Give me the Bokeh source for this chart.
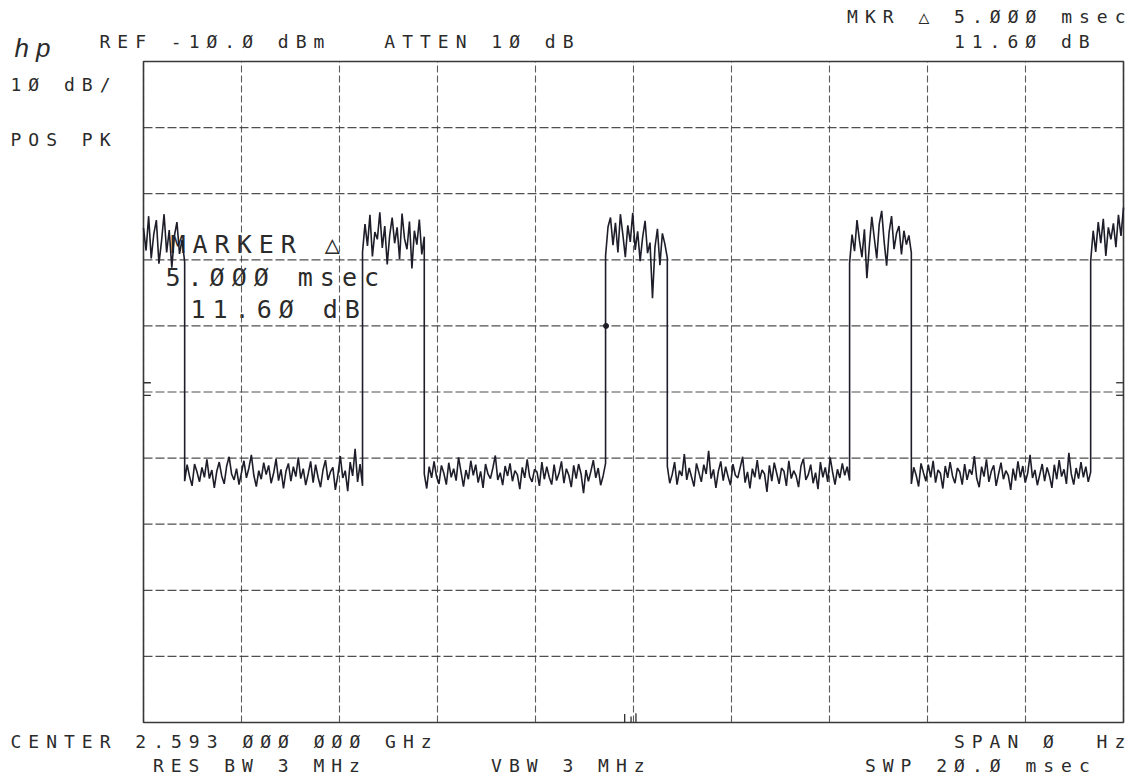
import numpy as np
from bokeh.plotting import figure
from bokeh.models import Label, Range1d
from bokeh.embed import file_html
from bokeh.resources import INLINE

# ---------------- data ----------------
sweep_ms = (0.0, 20.0)          # SWP 20.0 msec, zero span
level_db = (-110.0, -10.0)      # REF -10.0 dBm, 10 dB/div
x_ticks = [0, 2, 4, 6, 8, 10, 12, 14, 16, 18, 20]
y_ticks = [-110, -100, -90, -80, -70, -60, -50, -40, -30, -20, -10]

# pulse on/off transition times (ms)
edges_ms = [0.0, 0.84, 4.47, 5.73, 9.43, 10.69, 14.41, 15.67, 19.33, 20.0]

high1 = [-35.2, -38.6, -33.4, -39.8, -36.1, -34.0, -40.6, -37.2, -33.1, -38.9,
         -35.5, -41.2, -36.4, -34.3, -39.1, -37.0, -40.3]
low1 = [-73.5, -71.0, -72.8, -74.2, -70.9, -72.1, -73.6, -71.4, -72.9, -70.2,
        -73.1, -71.8, -74.5, -72.0, -70.6, -72.7, -73.9, -71.2, -69.8, -72.4,
        -73.3, -71.6, -74.0, -72.2, -70.4, -73.0, -71.5, -69.5, -72.6, -74.3,
        -71.9, -73.2, -70.7, -72.5, -71.1, -73.8, -72.3, -70.1, -73.4, -71.7,
        -74.6, -72.0, -70.8, -73.5, -71.3, -72.8, -69.9, -73.1, -71.6, -74.1,
        -72.4, -70.5, -73.7, -71.0, -72.9, -74.4, -71.8, -70.3, -73.3, -72.1,
        -71.4, -74.8, -72.6, -69.7, -73.0, -71.9, -75.0, -70.6, -72.7, -68.6,
        -73.6, -70.9, -74.2]
high2 = [-38.8, -34.6, -37.9, -33.2, -39.5, -35.8, -36.9, -32.8, -38.2, -34.9,
         -40.7, -36.3, -33.6, -37.5, -35.1, -39.9, -33.0, -36.8, -38.4, -34.2,
         -41.3, -35.6, -37.7, -33.9, -39.2, -36.5]
low2 = [-72.4, -74.6, -71.3, -73.0, -70.5, -72.8, -73.9, -71.1, -72.3, -74.0,
        -70.7, -72.9, -71.6, -73.4, -69.9, -72.1, -74.3, -71.8, -73.2, -70.4,
        -72.6, -71.0, -73.7, -72.0, -74.5, -70.9, -72.4, -73.1, -71.5, -69.6,
        -73.3, -72.2, -74.1, -71.2, -72.7, -70.8, -73.5, -71.9, -72.5, -74.7,
        -71.4, -73.0, -70.2, -72.8, -73.6, -71.7, -72.1, -74.2, -70.6, -73.2,
        -71.3, -72.9, -74.0, -71.0, -73.4, -72.3, -70.5, -73.8, -71.6, -72.6,
        -74.4, -71.1, -73.1, -70.9, -72.4, -75.3, -71.8, -73.5, -72.0, -70.3,
        -73.0, -71.5, -74.1, -72.7, -70.8]
high3 = [-39.4, -35.0, -33.6, -37.8, -34.4, -38.9, -33.1, -36.2, -39.6, -34.8,
         -37.3, -32.9, -38.5, -35.7, -40.2, -36.6, -34.1, -39.0, -37.4, -45.8,
         -38.1, -35.3, -40.8, -36.0, -37.6, -39.7]
low3 = [-71.2, -73.8, -72.5, -70.6, -74.0, -71.9, -72.7, -69.4, -73.3, -71.5,
        -72.9, -74.3, -70.8, -72.2, -73.6, -71.0, -72.4, -68.9, -73.1, -71.7,
        -74.5, -72.0, -70.5, -73.4, -71.3, -72.8, -74.1, -70.9, -72.6, -73.0,
        -71.4, -69.8, -73.7, -72.1, -74.6, -71.6, -72.9, -70.3, -73.2, -71.8,
        -72.4, -75.1, -71.1, -73.5, -70.7, -72.3, -73.9, -71.5, -72.0, -74.2,
        -70.4, -73.1, -71.9, -72.7, -74.4, -71.2, -70.1, -73.3, -72.5, -71.0,
        -73.8, -72.2, -74.7, -70.6, -72.9, -71.4, -73.6, -69.9, -72.1, -74.0,
        -71.7, -73.0, -70.8, -72.6, -71.3, -73.4]
high4 = [-40.5, -36.2, -38.7, -34.0, -37.1, -39.6, -35.4, -42.8, -37.9, -33.5,
         -36.7, -39.8, -34.6, -32.6, -37.3, -40.9, -35.8, -33.4, -38.4, -36.0,
         -34.9, -39.2, -35.6, -37.7, -36.3, -38.9]
low4 = [-73.9, -71.4, -72.6, -74.3, -70.8, -72.2, -73.5, -71.0, -72.9, -70.4,
        -73.7, -71.8, -72.3, -74.6, -71.2, -73.0, -70.6, -72.7, -73.8, -71.5,
        -72.1, -74.0, -70.9, -73.3, -71.7, -72.5, -69.7, -73.1, -74.4, -71.3,
        -72.8, -70.2, -73.6, -72.0, -71.1, -74.2, -72.4, -70.7, -73.2, -71.9,
        -72.6, -74.8, -71.6, -73.4, -70.5, -72.9, -71.2, -73.7, -72.3, -69.5,
        -73.0, -71.8, -74.1, -72.5, -70.9, -73.5, -71.4, -72.7, -74.5, -71.0,
        -73.2, -70.3, -72.8, -71.7, -73.9, -69.2, -72.4, -74.0, -71.5, -73.1,
        -70.6, -72.9, -71.3, -73.6, -72.1]
high5 = [-40.2, -35.6, -38.8, -34.3, -37.5, -33.8, -39.4, -35.1, -36.9, -34.5,
         -38.1, -33.2, -36.4, -32.1]
segments = [high1, low1, high2, low2, high3, low3, high4, low4, high5]

marker_ms = [9.44]
marker_db = [-50.0]
threshold_marks_db = [-58.6, -60.5]      # small "=" marks on both graticule edges
center_marks_ms = [9.82, 9.95, 10.05]    # small ticks on the bottom edge
center_marks_top_db = [-108.7, -109.1, -108.6]

top_texts = ["REF -1Ø.Ø dBm", "ATTEN 1Ø dB", "MKR △ 5.ØØØ msec", "11.6Ø dB"]
side_texts = ["1Ø dB/", "POS PK"]
bottom_texts = ["CENTER 2.593 ØØØ ØØØ GHz", "SPAN Ø\u00a0 Hz",
                "RES BW 3 MHz", "VBW 3 MHz", "SWP 2Ø.Ø msec"]
marker_texts = ["MARKER △", "5.ØØØ msec", "11.6Ø dB"]
logo_text = "hp"

# ---------------- build trace ----------------
t_all, db_all = [], []
for k, vals in enumerate(segments):
    t_all.extend(np.linspace(edges_ms[k], edges_ms[k + 1], len(vals)).tolist())
    db_all.extend(vals)

# ---------------- page geometry ----------------
W, H = 1133, 777
FL, FT, PXX, PXY = 143.0, 61.0, 49.0, 6.61   # graticule origin (page px) and px per unit
COL0, COLW = 10.0, 17.8                      # analyzer character grid (page px)


def to_data(px, py):
    return (px - FL) / PXX, level_db[1] - (py - FT) / PXY


def col(c):
    return COL0 + COLW * c


x0, y1 = to_data(0, 0)
x1, y0 = to_data(W, H)

p = figure(width=W, height=H, x_range=Range1d(x0, x1), y_range=Range1d(y0, y1),
           x_axis_location=None, y_axis_location=None,
           output_backend="svg", toolbar_location=None,
           min_border=0)
p.xgrid.visible = False
p.ygrid.visible = False
p.background_fill_color = "white"
p.border_fill_color = "white"
p.outline_line_color = None
p.styles = {"letter-spacing": "7px"}

INK = "#2b2b2b"

# graticule
p.segment(x0=x_ticks, x1=x_ticks, y0=[level_db[0]] * len(x_ticks), y1=[level_db[1]] * len(x_ticks),
          line_color="#4a4a4a", line_width=1.1, line_dash="7 3", line_alpha=0.9)
p.segment(x0=[sweep_ms[0]] * len(y_ticks), x1=[sweep_ms[1]] * len(y_ticks), y0=y_ticks, y1=y_ticks,
          line_color="#3c3c3c", line_width=1.2, line_dash="9 3", line_alpha=0.9)
p.quad(left=[sweep_ms[0]], right=[sweep_ms[1]], bottom=[level_db[0]], top=[level_db[1]],
       fill_color=None, line_color="#383838", line_width=1.6)

# edge marks
mark_len = 0.15
p.segment(x0=[sweep_ms[0]] * 2, x1=[sweep_ms[0] + mark_len] * 2,
          y0=threshold_marks_db, y1=threshold_marks_db, line_color="#303030", line_width=1.3)
p.segment(x0=[sweep_ms[1] - mark_len] * 2, x1=[sweep_ms[1]] * 2,
          y0=threshold_marks_db, y1=threshold_marks_db, line_color="#303030", line_width=1.3)
p.segment(x0=center_marks_ms, x1=center_marks_ms, y0=[level_db[0]] * 3, y1=center_marks_top_db,
          line_color="#303030", line_width=1.3)


def add_text(txt, px, py, size=18, font="DejaVu Sans Mono", style="normal", level="annotation"):
    # py is the wanted baseline (page px); compensate the renderer's baseline offset
    x, y = to_data(px, py - 0.37 * size)
    p.add_layout(Label(x=x, y=y, text=txt, text_font=font, text_font_size=f"{size}px",
                       text_font_style=style, text_color=INK, text_align="left",
                       text_baseline="alphabetic", level=level))


# marker readout in the graticule (under the trace)
add_text(marker_texts[0], 170, 253, size=25, level="underlay")
add_text(marker_texts[1], 165, 286, size=25, level="underlay")
add_text(marker_texts[2], 190, 318, size=25, level="underlay")

p.line(t_all, db_all, line_color="#1e1e2a", line_width=1.6)
p.scatter(marker_ms, marker_db, size=5, color="#1e1e2a")

# header / footer annotations
add_text(logo_text, 14, 57, size=26, font="Liberation Sans", style="italic")
add_text(top_texts[0], col(5), 48)
add_text(top_texts[1], col(21), 48)
add_text(top_texts[2], col(47), 23)
add_text(top_texts[3], col(53), 48)
add_text(side_texts[0], col(0), 91)
add_text(side_texts[1], col(0), 146)
add_text(bottom_texts[0], col(0), 748)
add_text(bottom_texts[1], col(53), 748)
add_text(bottom_texts[2], col(8), 772)
add_text(bottom_texts[3], col(27), 772)
add_text(bottom_texts[4], col(48), 772)

open("out.html", "w").write(file_html(p, INLINE))
